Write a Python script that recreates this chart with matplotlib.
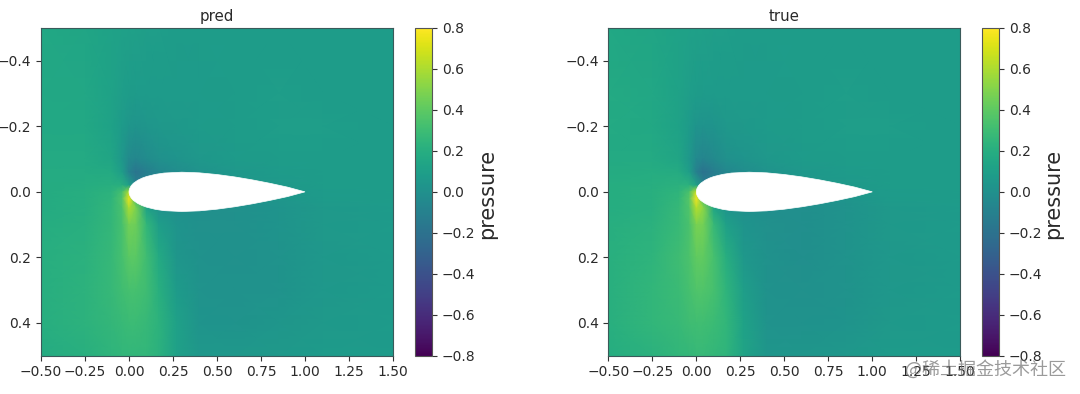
import numpy as np
import matplotlib
matplotlib.use("Agg")
import matplotlib.pyplot as plt

x_nodes = [-0.5, -0.25, -0.1, -0.04, 0.0, 0.04, 0.1, 0.17, 0.27, 0.4, 0.6, 0.85, 1.1, 1.5]
y_nodes = [-0.5, -0.3, -0.2, -0.1, -0.06, -0.02, 0.0, 0.02, 0.05, 0.1, 0.2, 0.3, 0.4, 0.5]

pressure_pred = [
    [.16, .14, .12, .11, .10, .10, .09, .09, .08, .08, .08, .08, .08, .08],
    [.16, .15, .12, .09, .08, .07, .07, .07, .07, .07, .08, .09, .08, .08],
    [.16, .16, .12, .07, .04, .03, .04, .05, .06, .07, .08, .09, .09, .08],
    [.17, .17, .14, .05, -.04, -.06, -.03, .00, .03, .05, .07, .08, .08, .08],
    [.18, .18, .17, .09, -.10, -.18, -.12, -.06, -.02, .02, .05, .07, .08, .08],
    [.18, .19, .21, .20, .10, -.10, -.10, -.05, -.02, .00, .04, .06, .08, .08],
    [.18, .20, .23, .32, .60, .10, .05, .00, .00, .00, .02, .05, .07, .08],
    [.18, .20, .24, .36, .75, .30, .05, .00, .00, .00, .00, .04, .07, .08],
    [.18, .20, .25, .34, .60, .48, .12, .02, .00, -.01, .00, .03, .06, .07],
    [.19, .21, .26, .33, .46, .44, .25, .09, .03, .00, .00, .03, .06, .07],
    [.20, .22, .27, .33, .39, .39, .30, .17, .04, .01, .00, .02, .05, .07],
    [.20, .23, .27, .31, .33, .33, .30, .21, .07, .02, .01, .02, .05, .07],
    [.20, .23, .26, .28, .29, .29, .27, .23, .11, .03, .02, .04, .06, .07],
    [.18, .21, .24, .25, .25, .25, .25, .22, .11, .05, .05, .06, .07, .07],
]

pressure_true = [
    [.16, .14, .12, .11, .10, .10, .09, .09, .08, .08, .08, .08, .08, .08],
    [.17, .15, .12, .09, .08, .07, .07, .07, .07, .07, .08, .09, .08, .08],
    [.17, .16, .12, .07, .03, .02, .03, .05, .06, .07, .08, .09, .09, .08],
    [.17, .17, .14, .05, -.05, -.07, -.04, .00, .03, .05, .07, .08, .08, .08],
    [.18, .19, .18, .09, -.11, -.20, -.13, -.06, -.02, .02, .05, .07, .08, .08],
    [.19, .20, .22, .22, .12, -.10, -.10, -.05, -.02, .00, .04, .06, .08, .08],
    [.19, .21, .24, .34, .65, .12, .05, .00, .00, .00, .02, .05, .07, .08],
    [.19, .21, .25, .38, .78, .35, .06, .00, .00, .00, .00, .03, .07, .08],
    [.19, .21, .27, .36, .62, .52, .14, .03, .00, -.01, -.01, .02, .06, .07],
    [.20, .22, .28, .34, .48, .46, .27, .10, .03, .00, -.01, .02, .06, .07],
    [.21, .24, .30, .35, .41, .41, .33, .20, .05, .01, -.01, .02, .05, .07],
    [.21, .25, .29, .33, .36, .36, .33, .24, .09, .01, .00, .02, .05, .07],
    [.21, .25, .28, .30, .31, .31, .29, .25, .12, .02, .01, .03, .06, .07],
    [.19, .22, .25, .26, .27, .27, .26, .24, .13, .04, .04, .05, .07, .07],
]

airfoil_x = [0.0, 0.001, 0.004, 0.0125, 0.025, 0.05, 0.075, 0.1, 0.15, 0.2, 0.3, 0.4, 0.5, 0.6, 0.7, 0.8, 0.9, 1.0]
airfoil_t = [0.0, 0.0052, 0.0105, 0.0189, 0.0262, 0.0355, 0.0420, 0.0468, 0.0534, 0.0574, 0.0600, 0.0580, 0.0529, 0.0456, 0.0366, 0.0262, 0.0145, 0.0]

panel_titles = ["pred", "true"]
cbar_ticks = [-0.8, -0.6, -0.4, -0.2, 0.0, 0.2, 0.4, 0.6, 0.8]
x_ticks = [-0.5, -0.25, 0.0, 0.25, 0.5, 0.75, 1.0, 1.25, 1.5]
y_ticks = [-0.4, -0.2, 0.0, 0.2, 0.4]
watermark = "@稀土掘金技术社区"

W, H = 1080, 394
plt.rcParams['font.family'] = ['DejaVu Sans']
plt.rcParams['text.color'] = '#2a2a2a'
plt.rcParams['axes.labelcolor'] = '#2a2a2a'
plt.rcParams['xtick.labelcolor'] = '#2a2a2a'
plt.rcParams['ytick.labelcolor'] = '#2a2a2a'
fig = plt.figure(figsize=(W / 100, H / 100), dpi=100)

def box(x0, x1, y0, y1):
    return [x0 / W, 1 - y1 / H, (x1 - x0) / W, (y1 - y0) / H]

layout = [
    (box(41, 393, 28, 355.7), box(415, 432, 28, 355.7), 487),
    (box(608.3, 960.3, 28, 355.7), box(982, 999.3, 28, 355.7), 1053),
]

for (ax_box, cb_box, lab_x), title, field in zip(layout, panel_titles, [pressure_pred, pressure_true]):
    ax = fig.add_axes(ax_box)
    mesh = ax.pcolormesh(x_nodes, y_nodes, np.array(field), shading='gouraud',
                         cmap='viridis', vmin=-0.8, vmax=0.8, rasterized=True)
    xs = np.array(airfoil_x)
    ts = np.array(airfoil_t)
    ax.fill(np.r_[xs, xs[::-1]], np.r_[ts, -ts[::-1]], color='white', lw=0.5, zorder=3)
    ax.set_xlim(-0.5, 1.5)
    ax.set_ylim(0.5, -0.5)
    ax.set_xticks(x_ticks)
    ax.set_yticks(y_ticks)
    ax.tick_params(labelsize=10, color='#333333')
    ax.set_title(title, fontsize=10.8, pad=5)
    for s in ax.spines.values():
        s.set_edgecolor('#3a5a5a')
    cax = fig.add_axes(cb_box)
    cb = fig.colorbar(mesh, cax=cax)
    cb.set_ticks(cbar_ticks)
    cb.ax.tick_params(labelsize=10, color='#333333')
    cb.outline.set_edgecolor('#555555')
    fig.text(lab_x / W, 1 - 194 / H, "pressure", rotation=90, fontsize=15,
             ha='center', va='center')

fig.text(985 / W, 1 - 369 / H, watermark, fontsize=13, color='#707070', alpha=0.7,
         family=['Noto Sans CJK SC', 'DejaVu Sans'], ha='center', va='center', zorder=10)

fig.savefig("out.png", dpi=100)
